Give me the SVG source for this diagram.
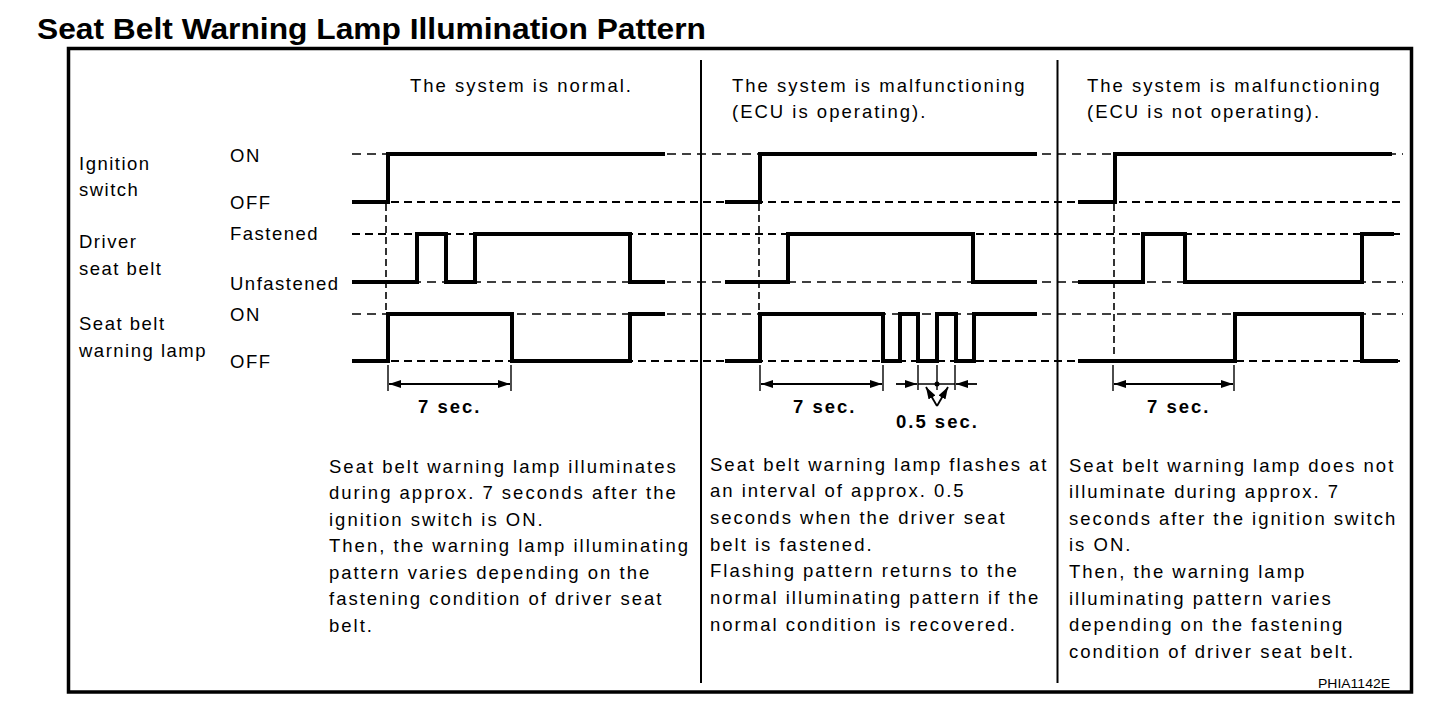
<svg xmlns="http://www.w3.org/2000/svg" width="1440" height="708" viewBox="0 0 1440 708">
<style>
text{font-family:"Liberation Sans",Arial,Helvetica,sans-serif;fill:#000}
.t{font-size:18.5px;letter-spacing:2px}
.lb{font-size:18.5px;letter-spacing:1.5px}
.b{font-size:18.5px;font-weight:bold;letter-spacing:2px}
.wave{fill:none;stroke:#000;stroke-width:4;stroke-linejoin:miter;stroke-linecap:butt}
.guide{fill:none;stroke:#000;stroke-width:1.4;stroke-dasharray:9 6}
.guide2{fill:none;stroke:#000;stroke-width:2;stroke-dasharray:8 5}
.vdash{fill:none;stroke:#000;stroke-width:1.6;stroke-dasharray:7 4}
.tick{fill:none;stroke:#000;stroke-width:1.4}
.dim{fill:none;stroke:#000;stroke-width:1.8;marker-start:url(#arr);marker-end:url(#arr)}
.dim1{fill:none;stroke:#000;stroke-width:1.8;marker-end:url(#arr)}
</style>
<defs>
<marker id="arr" viewBox="0 0 12 8" refX="12" refY="4" markerWidth="12" markerHeight="8" markerUnits="userSpaceOnUse" orient="auto-start-reverse">
<path d="M0,0 L12,4 L0,8 z" fill="#000"/>
</marker>
</defs>
<rect width="1440" height="708" fill="#fff"/>
<text id="title" x="37" y="39" font-size="30" font-weight="bold" textLength="669" lengthAdjust="spacingAndGlyphs">Seat Belt Warning Lamp Illumination Pattern</text>
<g id="frame">
<rect x="68.5" y="48.5" width="1343" height="643.5" fill="none" stroke="#000" stroke-width="3.5"/>
<line x1="701" y1="60" x2="701" y2="683" stroke="#000" stroke-width="2"/>
<line x1="1057.5" y1="60" x2="1057.5" y2="683" stroke="#000" stroke-width="2"/>
</g>
<g id="row-labels">
<text class="lb" x="79" y="169.5">Ignition</text>
<text class="lb" x="79" y="196">switch</text>
<text class="lb" x="79" y="248">Driver</text>
<text class="lb" x="79" y="274.5">seat belt</text>
<text class="lb" x="79" y="330">Seat belt</text>
<text class="lb" x="79" y="356.5">warning lamp</text>
<text class="lb" x="230" y="161.5">ON</text>
<text class="lb" x="230" y="209">OFF</text>
<text class="lb" x="230" y="240">Fastened</text>
<text class="lb" x="230" y="290">Unfastened</text>
<text class="lb" x="230" y="320.5">ON</text>
<text class="lb" x="230" y="368">OFF</text>
</g>
<g id="guides">
<line class="guide" x1="352" y1="154" x2="1403" y2="154"/>
<line class="guide2" x1="352" y1="202" x2="1403" y2="202"/>
<line class="guide2" x1="352" y1="234" x2="1403" y2="234"/>
<line class="guide" x1="352" y1="282" x2="1403" y2="282"/>
<line class="guide" x1="352" y1="314" x2="1403" y2="314"/>
<line class="guide2" x1="352" y1="361" x2="1403" y2="361"/>
</g>
<g id="panel-normal">
<text class="t" x="410" y="92">The system is normal.</text>
<polyline class="wave" points="352,202 388,202 388,154 665,154"/>
<polyline class="wave" points="352,282 417,282 417,234 446,234 446,282 475,282 475,234 630,234 630,282 665,282"/>
<polyline class="wave" points="352,361 388,361 388,314 512,314 512,361 630,361 630,314 665,314"/>
<line class="vdash" x1="386" y1="204" x2="386" y2="312"/>
<line class="tick" x1="388" y1="365" x2="388" y2="391"/>
<line class="tick" x1="511" y1="365" x2="511" y2="391"/>
<line class="dim" x1="389" y1="384" x2="510" y2="384"/>
<text class="b" x="418" y="413">7 sec.</text>
<text class="t" x="329" y="472.5">Seat belt warning lamp illuminates</text>
<text class="t" x="329" y="499">during approx. 7 seconds after the</text>
<text class="t" x="329" y="525.5">ignition switch is ON.</text>
<text class="t" x="329" y="552">Then, the warning lamp illuminating</text>
<text class="t" x="329" y="578.5">pattern varies depending on the</text>
<text class="t" x="329" y="605">fastening condition of driver seat</text>
<text class="t" x="329" y="631.5">belt.</text>
</g>
<g id="panel-ecu-operating">
<text class="t" x="732" y="92">The system is malfunctioning</text>
<text class="t" x="732" y="118">(ECU is operating).</text>
<polyline class="wave" points="725,202 760,202 760,154 1037,154"/>
<polyline class="wave" points="725,282 788,282 788,234 973,234 973,282 1037,282"/>
<polyline class="wave" points="725,361 760,361 760,314 883,314 883,361 900,361 900,314 918,314 918,361 937,361 937,314 956,314 956,361 974,361 974,314 1037,314"/>
<line class="vdash" x1="759" y1="204" x2="759" y2="312"/>
<line class="tick" x1="760" y1="365" x2="760" y2="391"/>
<line class="tick" x1="883" y1="365" x2="883" y2="391"/>
<line class="dim" x1="761" y1="384" x2="882" y2="384"/>
<text class="b" x="793" y="413">7 sec.</text>
<line class="tick" x1="918" y1="365" x2="918" y2="390"/>
<line class="tick" x1="937" y1="365" x2="937" y2="390"/>
<line class="tick" x1="955" y1="365" x2="955" y2="390"/>
<line class="dim1" x1="896" y1="384" x2="917" y2="384"/>
<line class="dim1" x1="977" y1="384" x2="956" y2="384"/>
<line class="tick" x1="918" y1="384" x2="955" y2="384" stroke-width="1.8"/>
<circle cx="937" cy="384" r="2.5" fill="#000"/>
<line class="dim1" x1="937" y1="406" x2="926" y2="387"/>
<line class="dim1" x1="937" y1="406" x2="948" y2="387"/>
<text class="b" x="896" y="428">0.5 sec.</text>
<text class="t" x="710" y="470.5">Seat belt warning lamp flashes at</text>
<text class="t" x="710" y="497.2">an interval of approx. 0.5</text>
<text class="t" x="710" y="523.9">seconds when the driver seat</text>
<text class="t" x="710" y="550.6">belt is fastened.</text>
<text class="t" x="710" y="577.3">Flashing pattern returns to the</text>
<text class="t" x="710" y="604">normal illuminating pattern if the</text>
<text class="t" x="710" y="630.7">normal condition is recovered.</text>
</g>
<g id="panel-ecu-not-operating">
<text class="t" x="1087" y="92">The system is malfunctioning</text>
<text class="t" x="1087" y="118">(ECU is not operating).</text>
<polyline class="wave" points="1078,202 1115,202 1115,154 1392,154"/>
<polyline class="wave" points="1078,282 1143,282 1143,234 1185,234 1185,282 1362,282 1362,234 1394,234"/>
<polyline class="wave" points="1078,361 1235,361 1235,314 1362,314 1362,361 1398,361"/>
<line class="vdash" x1="1114" y1="204" x2="1114" y2="358"/>
<line class="tick" x1="1113" y1="365" x2="1113" y2="391"/>
<line class="tick" x1="1234" y1="365" x2="1234" y2="391"/>
<line class="dim" x1="1114" y1="384" x2="1233" y2="384"/>
<text class="b" x="1147" y="413">7 sec.</text>
<text class="t" x="1069" y="471.5">Seat belt warning lamp does not</text>
<text class="t" x="1069" y="498.1">illuminate during approx. 7</text>
<text class="t" x="1069" y="524.7">seconds after the ignition switch</text>
<text class="t" x="1069" y="551.3">is ON.</text>
<text class="t" x="1069" y="577.9">Then, the warning lamp</text>
<text class="t" x="1069" y="604.5">illuminating pattern varies</text>
<text class="t" x="1069" y="631.1">depending on the fastening</text>
<text class="t" x="1069" y="657.7">condition of driver seat belt.</text>
</g>
<text id="code" x="1318" y="688" font-size="13.5" textLength="72" lengthAdjust="spacingAndGlyphs">PHIA1142E</text>
</svg>
